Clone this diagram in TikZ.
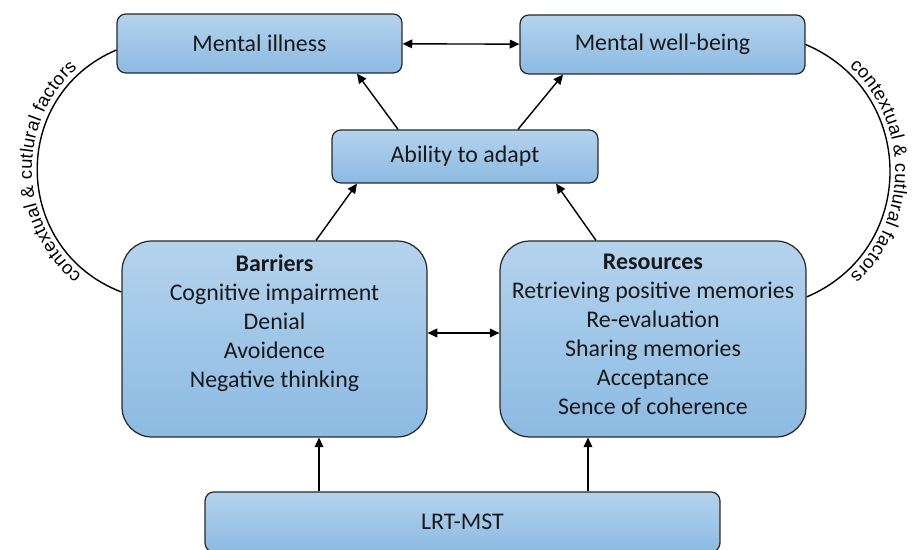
\documentclass[tikz,border=0pt]{standalone}
\usepackage{fontspec}
\setmainfont{Carlito}
\newfontfamily\arcfont{Liberation Sans}
\usepackage{xcolor}
\usetikzlibrary{arrows.meta, positioning, decorations.text}

\definecolor{boxtop}{RGB}{180,211,237}
\definecolor{boxbot}{RGB}{140,186,226}
\definecolor{boxline}{RGB}{40,40,40}
\definecolor{txt}{RGB}{25,25,25}

\begin{document}
\begin{tikzpicture}[
x=0.02cm, y=0.02cm,
box/.style={rectangle, rounded corners=5pt, draw=boxline, line width=0.7pt,
  top color=boxtop, bottom color=boxbot, text=txt, align=center,
  font=\fontsize{13.6pt}{16.5pt}\selectfont},
bigbox/.style={box, rounded corners=17pt},
arrow/.style={-{Triangle[length=5.5pt,width=5pt]}, line width=0.8pt},
dblarrow/.style={{Triangle[length=5.5pt,width=5pt]}-{Triangle[length=5.5pt,width=5pt]}, line width=0.8pt},
arc/.style={line width=0.8pt},
arctext/.style={decorate, decoration={text along path, text align=center, raise=3pt,
  text={|\arcfont\fontsize{10.5pt}{12pt}\selectfont|contextual {\&} cutlural factors}}}
]
\useasboundingbox (0,0) rectangle (914,550);

% boxes
\node[box, minimum width=5.7cm, minimum height=1.18cm] (illness) at (259.5,506.5) {Mental illness};
\node[box, minimum width=5.7cm, minimum height=1.18cm] (wellbeing) at (662.5,505.5) {Mental well-being};
\node[box, minimum width=5.32cm, minimum height=1.06cm] (adapt) at (465,393.5) {Ability to adapt};
\node[bigbox, minimum width=6.1cm, minimum height=3.92cm] (barriers) at (274.5,211)
  {\textbf{Barriers}\\Cognitive impairment\\Denial\\Avoidence\\Negative thinking\\[4pt]\mbox{}};
\node[bigbox, minimum width=6.12cm, minimum height=3.92cm] (resources) at (653,211)
  {\textbf{Resources}\\Retrieving positive memories\\Re-evaluation\\Sharing memories\\Acceptance\\Sence of coherence\\[-11pt]\mbox{}};
\node[box, minimum width=10.3cm, minimum height=1.2cm] (lrt) at (462.5,28) {LRT-MST};

% arrows
\draw[dblarrow] (illness) -- (wellbeing);
\draw[arrow] ([xshift=-1.34cm]adapt.north) -- ([xshift=1.95cm]illness.south);
\draw[arrow] ([xshift=1.06cm]adapt.north) -- ([xshift=-1.99cm]wellbeing.south);
\draw[arrow] ([xshift=0.83cm]barriers.north) -- ([xshift=-2.16cm]adapt.south);
\draw[arrow] ([xshift=-1.14cm]resources.north) -- ([xshift=1.82cm]adapt.south);
\draw[dblarrow] ([yshift=0.12cm]barriers.east) -- ([yshift=0.12cm]resources.west);
\draw[arrow] ([xshift=-2.87cm]lrt.north) -- ([xshift=-2.87cm]lrt.north |- barriers.south);
\draw[arrow] ([xshift=2.51cm]lrt.north) -- ([xshift=2.51cm]lrt.north |- resources.south);

% contextual factors
\draw[arc] ([yshift=-0.13cm]illness.west) to[out=203, in=159, looseness=1.24] ([yshift=0.94cm]barriers.west);
\path[arctext] ([yshift=0.94cm]barriers.west) to[out=159, in=203, looseness=1.24] ([yshift=-0.13cm]illness.west);
\draw[arc] (wellbeing.east) to[out=-23, in=23, looseness=1.23] ([yshift=0.84cm]resources.east);
\path[arctext] (wellbeing.east) to[out=-23, in=23, looseness=1.23] ([yshift=0.84cm]resources.east);

\end{tikzpicture}
\end{document}
